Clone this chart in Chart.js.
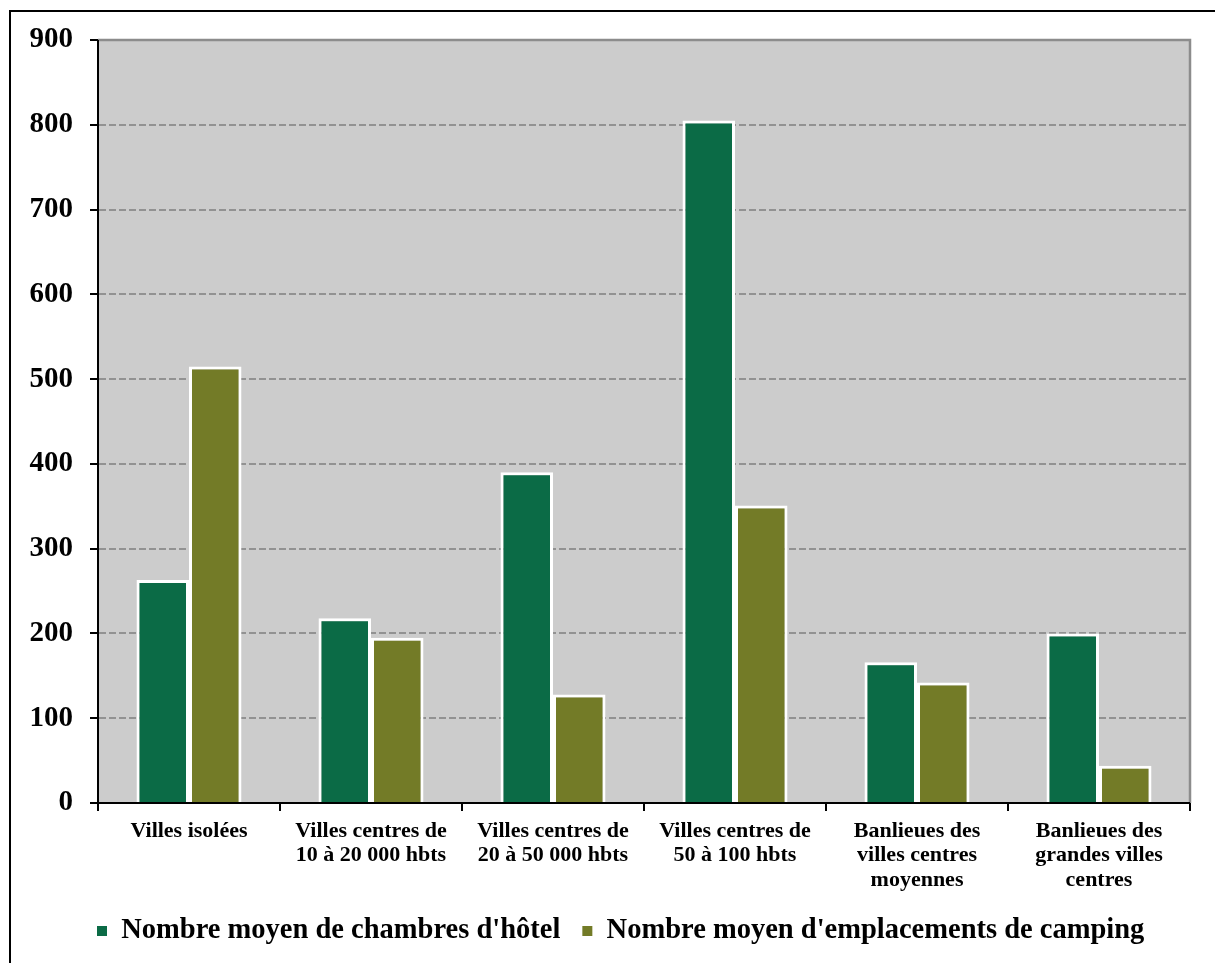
<!DOCTYPE html>
<html><head><meta charset="utf-8">
<script src="https://cdn.jsdelivr.net/npm/chart.js@4.4.0/dist/chart.umd.min.js"></script>
<style>
html,body{margin:0;padding:0;background:#fff;overflow:hidden;}
#wrap{position:relative;width:1215px;height:963px;}
#frame{position:absolute;left:9px;top:10px;width:1300px;height:1000px;border-left:2px solid #000;border-top:2px solid #000;pointer-events:none;}
canvas{position:absolute;left:0;top:0;}
</style></head><body>
<div id="wrap"><canvas id="c" width="1215" height="963"></canvas><div id="frame"></div></div>
<script>
const categories = [
  ["Villes isolées"],
  ["Villes centres de", "10 à 20 000 hbts"],
  ["Villes centres de", "20 à 50 000 hbts"],
  ["Villes centres de", "50 à 100 hbts"],
  ["Banlieues des", "villes centres", "moyennes"],
  ["Banlieues des", "grandes villes", "centres"]
];
const seriesNames = ["Nombre moyen de chambres d'hôtel", "Nombre moyen d'emplacements de camping"];
const hotelRooms = [263, 218, 390, 805, 166, 200];
const campingPitches = [515, 195, 128, 351, 142, 44];
const yTicks = [0, 100, 200, 300, 400, 500, 600, 700, 800, 900];

Chart.defaults.font.family = "'Liberation Serif', 'DejaVu Serif', serif";
Chart.defaults.font.weight = 'bold';
Chart.defaults.color = '#000';

const LEGEND_PAD = 22;
const LEGEND_FONT = 28.5;

const plotDeco = {
  id: 'plotDeco',
  afterLayout(chart) {
    const lg = chart.legend;
    if (!lg) return;
    // place the legend row: first marker at x=97, text centred at y=931
    const lw = lg.lineWidths ? lg.lineWidths[0] : 0;
    const curStart = (lg.left + LEGEND_PAD + lg.right - lw) / 2;
    const dx = 97 - curStart;
    lg.left += dx; lg.right += dx;
    const h = lg.height;
    lg.top = 931 - LEGEND_PAD - LEGEND_FONT / 2;
    lg.bottom = lg.top + h;
  },
  beforeDraw(chart) {
    const {ctx, chartArea: a} = chart;
    ctx.save();
    ctx.fillStyle = '#CCCCCC';
    ctx.fillRect(a.left, a.top, a.right - a.left, a.bottom - a.top);
    ctx.restore();
  },
  afterDatasetsDraw(chart) {
    const {ctx, chartArea: a} = chart;
    ctx.save();
    ctx.lineWidth = 2.5;
    ctx.strokeStyle = '#8C8C8C';
    ctx.beginPath();
    ctx.moveTo(a.left, a.top); ctx.lineTo(a.right, a.top); ctx.lineTo(a.right, a.bottom);
    ctx.stroke();
    ctx.lineWidth = 2;
    ctx.strokeStyle = '#000';
    ctx.beginPath();
    ctx.moveTo(a.left, a.top); ctx.lineTo(a.left, a.bottom); ctx.lineTo(a.right, a.bottom);
    ctx.stroke();
    ctx.restore();
  }
};

new Chart(document.getElementById('c'), {
  type: 'bar',
  data: {
    labels: categories,
    datasets: [
      { label: seriesNames[0], data: hotelRooms, backgroundColor: '#0B6B46', borderColor: '#FFFFFF', borderWidth: 3 },
      { label: seriesNames[1], data: campingPitches, backgroundColor: '#737B27', borderColor: '#FFFFFF', borderWidth: 3 }
    ]
  },
  options: {
    responsive: false,
    devicePixelRatio: 1,
    animation: false,
    layout: { padding: { left: 14, right: 25, top: 40, bottom: 3.5 } },
    datasets: { bar: { categoryPercentage: 0.577, barPercentage: 1.0 } },
    plugins: {
      tooltip: { enabled: false },
      legend: {
        position: 'bottom',
        labels: {
          boxWidth: 10, boxHeight: 10, padding: LEGEND_PAD, color: '#000',
          font: { size: LEGEND_FONT, weight: 'bold' },
          generateLabels(chart) {
            const items = Chart.defaults.plugins.legend.labels.generateLabels(chart);
            items.forEach(it => { it.strokeStyle = it.fillStyle; it.lineWidth = 0; });
            return items;
          }
        }
      }
    },
    scales: {
      x: {
        grid: { offset: true, drawOnChartArea: false, drawTicks: true, tickLength: 8, tickWidth: 2, tickColor: '#000', color: '#000', lineWidth: 2 },
        border: { display: true, color: '#000', width: 2 },
        ticks: { color: '#000', font: { size: 22, weight: 'bold', lineHeight: 24.5 / 22 }, padding: 8, maxRotation: 0, minRotation: 0, autoSkip: false },
        afterFit(s) { s.height = 96; }
      },
      y: {
        min: yTicks[0], max: yTicks[yTicks.length - 1],
        afterBuildTicks(s) { s.ticks = yTicks.map(v => ({ value: v })); },
        ticks: { color: '#000', font: { size: 29, weight: 'bold' }, padding: 17 },
        grid: { color: '#929292', lineWidth: 2, borderDash: [7, 3], tickColor: '#000', tickLength: 8, tickWidth: 2, tickBorderDash: [] },
        border: { display: true, color: '#000', width: 2, dash: [7, 3] },
        afterFit(s) { s.width = 84; }
      }
    }
  },
  plugins: [plotDeco]
});
</script>
</body></html>
